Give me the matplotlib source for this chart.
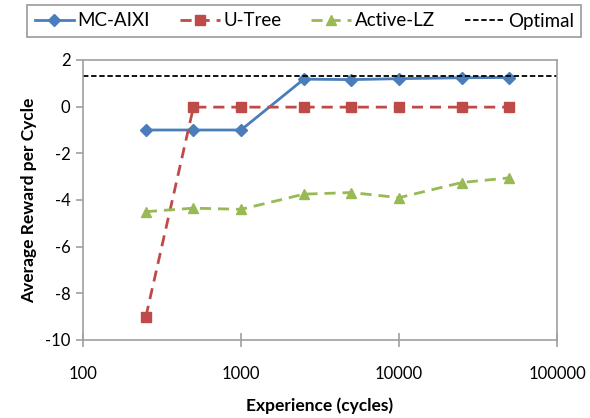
import matplotlib.pyplot as plt
from matplotlib.ticker import FixedLocator, NullLocator

plt.rcParams['font.family'] = ['Lato', 'DejaVu Sans']
plt.rcParams['axes.unicode_minus'] = False

# data
cycles = [250, 500, 1000, 2500, 5000, 10000, 25000, 50000]
mc_aixi = [-1.0, -1.0, -1.0, 1.18, 1.16, 1.2, 1.24, 1.25]
u_tree = [-9.0, -0.02, -0.02, -0.02, -0.02, -0.02, -0.02, -0.02]
active_lz = [-4.5, -4.35, -4.4, -3.75, -3.68, -3.9, -3.25, -3.05]
optimal = 1.32

fig = plt.figure(figsize=(5.90, 4.18), dpi=100)
ax = fig.add_axes([83/590, 1 - 340/418, (557-83)/590, (340-60)/418])

ax.plot(cycles, mc_aixi, color='#4a7ebb', lw=2, marker='D', ms=6, label='MC-AIXI')
ax.plot(cycles, u_tree, color='#be4b48', lw=2, ls=(0, (4, 2.5)), marker='s', ms=7, label='U-Tree')
ax.plot(cycles, active_lz, color='#98b954', lw=2, ls=(0, (4, 2.5)), marker='^', ms=7, label='Active-LZ')
ax.axhline(optimal, color='black', lw=1.3, ls=(0, (3, 1.5)), label='Optimal')

ax.set_xscale('log')
ax.set_xlim(100, 100000)
ax.set_ylim(-10, 2)
ax.xaxis.set_major_locator(FixedLocator([100, 1000, 10000, 100000]))
ax.xaxis.set_minor_locator(NullLocator())
ax.set_xticklabels(['100', '1000', '10000', '100000'])
ax.set_yticks(range(-10, 3, 2))

for s in ax.spines.values():
    s.set_color('#a0a0a0')
    s.set_linewidth(1.2)
ax.tick_params(colors='#a0a0a0', labelcolor='black', labelsize=12, length=5, width=1.2)
ax.tick_params(axis='x', direction='inout', length=10, pad=14)
ax.tick_params(axis='y', pad=4)

ax.set_xlabel('Experience (cycles)', fontsize=12.5, fontweight='bold', labelpad=11)
ax.set_ylabel('Average Reward per Cycle', fontsize=12.5, fontweight='bold', labelpad=6)

leg = fig.legend(loc='upper left', bbox_to_anchor=(27/590, 1 - 5/418),
                 ncol=4, fontsize=13.5, frameon=True, fancybox=False,
                 borderaxespad=0, borderpad=0.4, handlelength=2.1, handletextpad=0.2,
                 columnspacing=1.6)
leg.get_frame().set_edgecolor('#808080')
leg.get_frame().set_linewidth(1.2)

fig.savefig('out.png', dpi=100)
